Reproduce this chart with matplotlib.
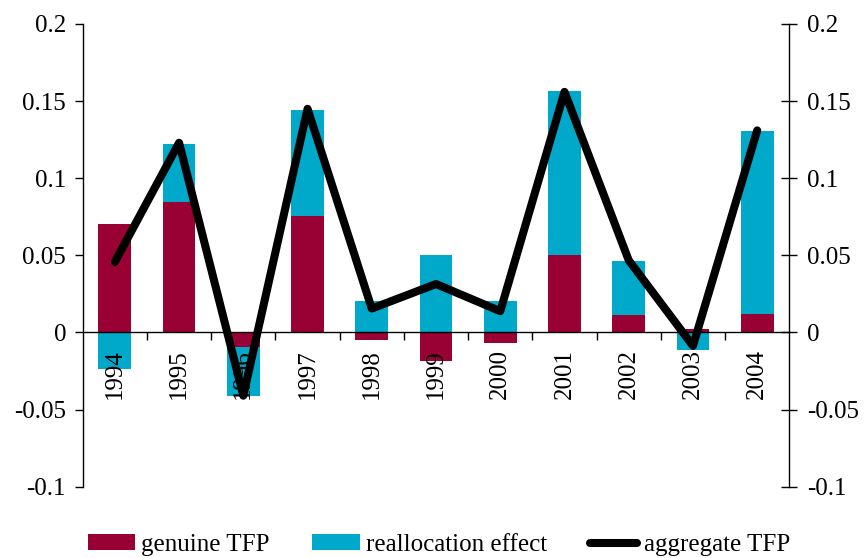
import matplotlib
matplotlib.use("Agg")
import matplotlib.pyplot as plt
import numpy as np
from matplotlib.ticker import FixedLocator, NullFormatter

years = ["1994", "1995", "1996", "1997", "1998", "1999", "2000", "2001", "2002", "2003", "2004"]
genuine = [0.070, 0.0845, -0.0093, 0.0755, -0.005, -0.0186, -0.0067, 0.050, 0.0112, 0.0021, 0.0118]
realloc = [-0.0237, 0.038, -0.0319, 0.069, 0.0202, 0.050, 0.0202, 0.1063, 0.035, -0.0114, 0.119]
aggregate = [0.0457, 0.123, -0.041, 0.145, 0.0155, 0.0314, 0.0138, 0.156, 0.0468, -0.0087, 0.131]
ytick_vals = [-0.1, -0.05, 0, 0.05, 0.1, 0.15, 0.2]
ytick_labels = ["-0.1", "-0.05", "0", "0.05", "0.1", "0.15", "0.2"]

RED = "#990033"
CYAN = "#00A9C9"

plt.rcParams['font.family'] = ['Liberation Serif', 'DejaVu Serif']
plt.rcParams['font.size'] = 18

fig = plt.figure(figsize=(8.67, 5.58), dpi=100)
ax = fig.add_axes([0.0954, 0.1278, 0.8150, 0.8292])
ax.set_axisbelow(False)

x = np.arange(len(years))
g = np.array(genuine)
r = np.array(realloc)
r_bottom = np.where(np.sign(r) == np.sign(g), g, 0.0)

b1 = ax.bar(x, g, width=0.51, color=RED, label="genuine TFP", zorder=2)
b2 = ax.bar(x, r, width=0.51, bottom=r_bottom, color=CYAN, label="reallocation effect", zorder=2)
ln, = ax.plot(x, aggregate, color="black", lw=5.8, solid_capstyle="round",
              solid_joinstyle="round", label="aggregate TFP", zorder=4)

ax.set_xlim(-0.5, len(years) - 0.5)
ax.set_ylim(-0.1, 0.2)

for s in ["top", "right"]:
    ax.spines[s].set_visible(False)
ax.spines["bottom"].set_position(("data", 0))
ax.spines["left"].set_linewidth(1.0)
ax.spines["bottom"].set_linewidth(1.0)

ax.set_yticks(ytick_vals)
ax.set_yticklabels(ytick_labels)
ax.tick_params(axis="y", direction="out", length=6, width=1, pad=6, labelsize=18)

ax.set_xticks(x)
ax.set_xticklabels(years, rotation=90, va="top")
ax.tick_params(axis="x", which="major", length=0, pad=12, labelsize=18)
ax.xaxis.set_minor_locator(FixedLocator(np.arange(0.5, len(years) - 0.5, 1.0)))
ax.xaxis.set_minor_formatter(NullFormatter())
ax.tick_params(axis="x", which="minor", direction="out", length=6, width=1)
ax.xaxis.set_zorder(3)

ax2 = ax.twinx()
ax2.set_ylim(-0.1, 0.2)
for s in ["top", "left", "bottom"]:
    ax2.spines[s].set_visible(False)
ax2.spines["right"].set_linewidth(1.0)
ax2.set_yticks(ytick_vals)
ax2.set_yticklabels(ytick_labels)
ax2.tick_params(axis="y", direction="inout", length=12, width=1, pad=7, labelsize=18)

fig.legend([b1, b2, ln], ["genuine TFP", "reallocation effect", "aggregate TFP"],
           loc="center", bbox_to_anchor=(0.506, 0.023), ncol=3, frameon=False,
           fontsize=18, handlelength=1.9, handleheight=0.6, handletextpad=0.25,
           columnspacing=1.7, borderaxespad=0)

fig.savefig("out.png", dpi=100)
